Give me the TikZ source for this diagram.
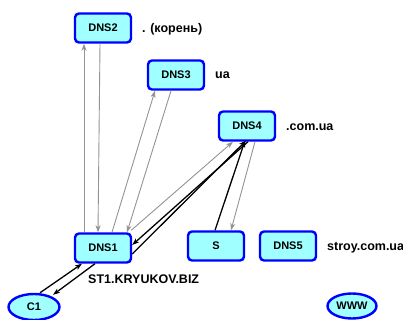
\documentclass[tikz,border=0pt]{standalone}
\usepackage{fontspec}
\setmainfont{Liberation Sans}
\usetikzlibrary{arrows.meta,shapes.geometric}
\definecolor{boxfill}{RGB}{160,255,255}
\definecolor{boxline}{RGB}{0,0,255}
\begin{document}
\begin{tikzpicture}[x=1pt,y=-1pt,
  srv/.style={draw=boxline,fill=boxfill,line width=2.4pt,rounded corners=4pt,
    minimum width=56pt,minimum height=29pt,inner sep=0pt,
    font=\fontsize{11}{12}\selectfont\bfseries},
  cli/.style={draw=boxline,fill=boxfill,line width=2.4pt,shape=ellipse,
    inner sep=0pt,font=\fontsize{11}{12}\selectfont\bfseries},
  lbl/.style={anchor=west,inner sep=0pt,font=\fontsize{12.5}{14}\selectfont\bfseries},
  tip/.style={-{Stealth[length=7pt,width=5pt,inset=2pt]}},
  gr/.style={tip,draw=gray!85,line width=0.9pt},
  bl/.style={tip,draw=black,line width=1.3pt}]
\useasboundingbox (0,0) rectangle (403,320);
\node[srv] (dns2) at (103,28) {DNS2};
\node[srv] (dns3) at (176,75) {DNS3};
\node[srv] (dns4) at (247,126) {DNS4};
\node[srv] (dns1) at (103,248) {DNS1};
\node[srv] (s) at (216,246) {S};
\node[srv] (dns5) at (288,246) {DNS5};
\node[cli,minimum width=51pt,minimum height=26pt] (c1) at (34,307) {C1};
\node[cli,minimum width=49pt,minimum height=25pt] (www) at (352,306) {WWW};
\node[lbl] (l2) at (142,29) {. (корень)};
\node[lbl] (l3) at (215,75) {ua};
\node[lbl] (l4) at (286,127) {.com.ua};
\node[lbl] (l5) at (327,248) {stroy.com.ua};
\node[lbl] (l1) at (88,279) {ST1.KRYUKOV.BIZ};
% DNS1 <-> DNS2
\draw[gr] ([xshift=-19pt]dns1.north) -- ([xshift=-19pt]dns2.south);
\draw[gr] ([xshift=-3pt]dns2.south) -- ([xshift=-5pt]dns1.north);
% DNS1 <-> DNS3
\draw[gr] ([xshift=9pt]dns1.north) -- ([xshift=-21pt]dns3.south);
\draw[gr] ([xshift=-5pt]dns3.south) -- ([xshift=24pt]dns1.north);
% DNS1 <-> DNS4
\draw[gr] ([xshift=-1pt,yshift=2pt]dns1.north east) -- ([xshift=-14pt]dns4.south);
\draw[bl] ([yshift=-6pt]dns1.east) -- ([xshift=-1pt,yshift=1pt]dns4.south);
\draw[bl] ([xshift=1pt]dns4.south) -- ([yshift=3pt]dns1.east);
% S <-> DNS4
\draw[bl] ([xshift=-1pt]s.north) -- ([xshift=-2pt,yshift=1pt]dns4.south);
\draw[gr] ([xshift=8pt]dns4.south) -- ([xshift=15pt]s.north);
% C1 <-> DNS1
\draw[bl] ([xshift=6pt]c1.north) -- ([xshift=-21pt]dns1.south);
\draw[bl] ([xshift=-8pt]dns1.south) -- ([xshift=19pt,yshift=-2pt]c1.north);
\end{tikzpicture}
\end{document}
